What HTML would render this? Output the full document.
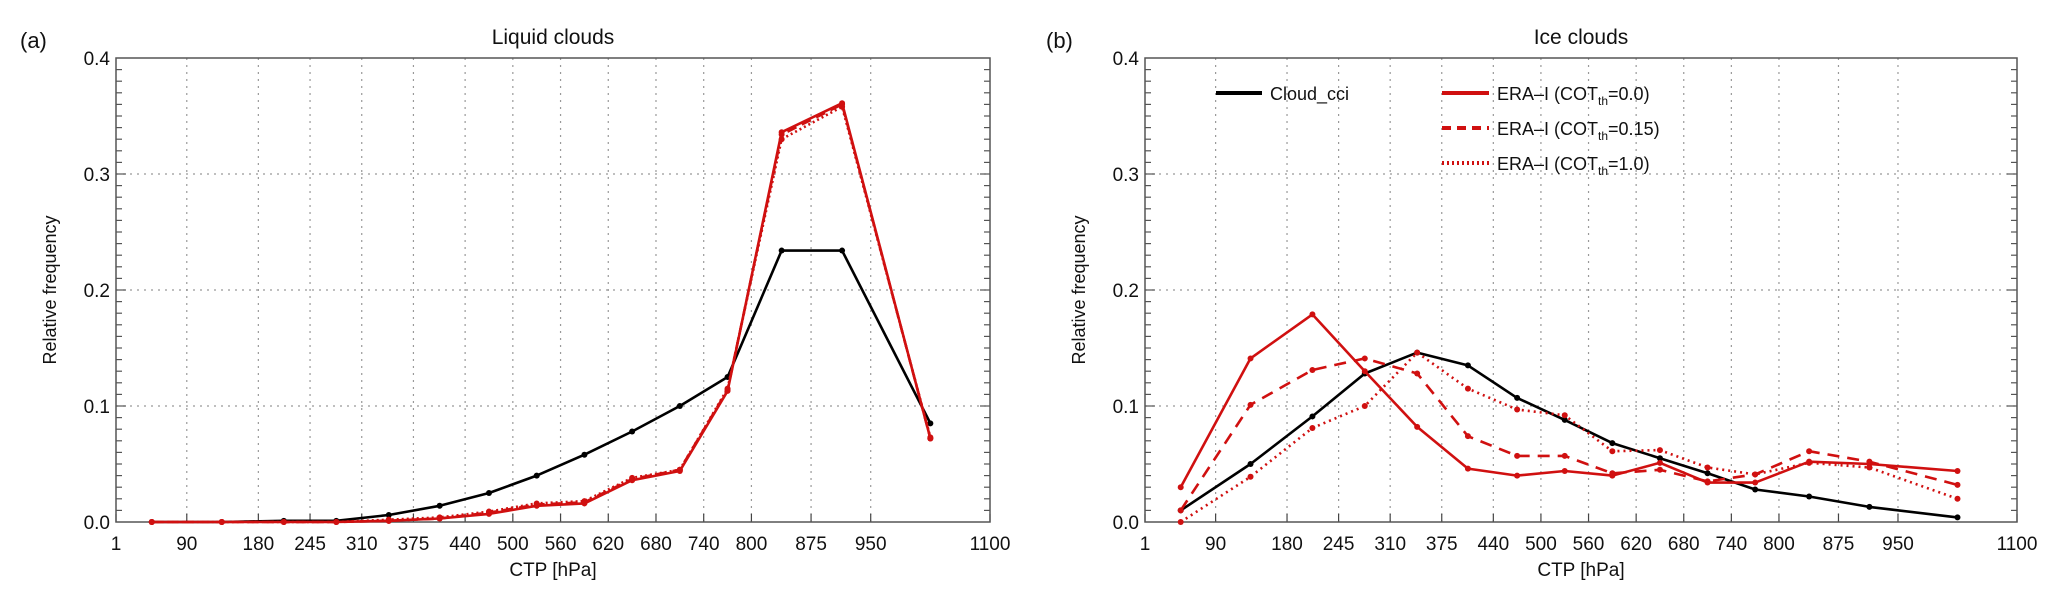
<!DOCTYPE html>
<html><head><meta charset="utf-8"><style>
html,body{margin:0;padding:0;background:#fff;}
svg{display:block;font-family:"Liberation Sans",Arial,sans-serif;}
</style></head><body>
<svg id="chart" width="2067" height="606" xmlns="http://www.w3.org/2000/svg"></svg>
<script>
const pressureBins = [46,134,212,278,344,408,470,530,590,650,710,770,838,914,1025];
const xTicks = [1,90,180,245,310,375,440,500,560,620,680,740,800,875,950,1100];
const yTicks = [0.0,0.1,0.2,0.3,0.4];
const liqCci   = [0,0,0,0.001,0.001,0.006,0.014,0.025,0.040,0.058,0.078,0.100,0.125,0.234,0.234,0.085].slice(1);
const liqEra00 = [0,0,0,0,0.001,0.003,0.007,0.014,0.016,0.036,0.044,0.113,0.336,0.361,0.072];
const liqEra15 = [0,0,0,0,0.001,0.003,0.008,0.015,0.017,0.037,0.045,0.114,0.334,0.360,0.072];
const liqEra10 = [0,0,0,0,0.002,0.004,0.009,0.016,0.018,0.038,0.045,0.115,0.330,0.358,0.073];
const iceCci   = [0.010,0.050,0.091,0.128,0.146,0.135,0.107,0.088,0.068,0.055,0.042,0.028,0.022,0.013,0.004];
const iceEra00 = [0.030,0.141,0.179,0.130,0.082,0.046,0.040,0.044,0.040,0.051,0.034,0.034,0.052,0.050,0.044];
const iceEra15 = [0.010,0.101,0.131,0.141,0.128,0.074,0.057,0.057,0.042,0.045,0.035,0.041,0.061,0.052,0.032];
const iceEra10 = [0.000,0.039,0.081,0.100,0.146,0.115,0.097,0.092,0.061,0.062,0.047,0.041,0.051,0.047,0.020];
</script>
<script>
const NS="http://www.w3.org/2000/svg";
const svg=document.getElementById('chart');
function mk(tag,attrs,parent,text){const e=document.createElementNS(NS,tag);for(const k in attrs)e.setAttribute(k,attrs[k]);if(text!==undefined)e.textContent=text;(parent||svg).appendChild(e);return e;}
const RED="#d01010";
function panel(o){
  const g=mk('g',{});
  
  
  const L=o.left,R=o.right,T=58,B=522;
  const xs=v=>L+(v-1)/1099*(R-L);
  const ys=v=>B-v/0.4*(B-T);
  xTicks.forEach((t,i)=>{
    if(i>0&&i<xTicks.length-1){const l=mk('line',{x1:xs(t),x2:xs(t),y1:T,y2:B,stroke:'#999','stroke-width':1.2,'stroke-dasharray':'2,5'},g);
      }
    const tl=mk('line',{x1:xs(t),x2:xs(t),y1:B,y2:B-8,stroke:'#444','stroke-width':1.2},g);
    
    const tx=mk('text',{x:xs(t),y:550,'text-anchor':'middle','font-size':19,fill:'#111'},g,String(t));
    
  });
  for(let k=1;k<40;k++){const v=k*0.01;const y=ys(v);const major=k%10===0;
    if(major){const gl=mk('line',{x1:L,x2:R,y1:y,y2:y,stroke:'#999','stroke-width':1.2,'stroke-dasharray':'2,5'},g);
      }
    const w=major?10:6;
    mk('line',{x1:L,x2:L+w,y1:y,y2:y,stroke:'#555','stroke-width':1.2},g);
    mk('line',{x1:R,x2:R-w,y1:y,y2:y,stroke:'#555','stroke-width':1.2},g);
  }
  yTicks.forEach(t=>{const tx=mk('text',{x:L-6,y:ys(t)+7,'text-anchor':'end','font-size':19,fill:'#111'},g,t.toFixed(1));
    });
  const box=mk('rect',{x:L,y:T,width:R-L,height:B-T,fill:'none',stroke:'#555','stroke-width':1.5},g);
  
  const ti=mk('text',{x:(L+R)/2,y:44,'text-anchor':'middle','font-size':21,fill:'#111'},g,o.title);
  
  const lb=mk('text',{x:o.labelX,y:48,'font-size':22,fill:'#111'},g,o.label);
  
  const yl=mk('text',{x:0,y:0,'text-anchor':'middle','font-size':18,fill:'#111',transform:`translate(${L-60},290) rotate(-90)`},g,'Relative frequency');
  
  const xl=mk('text',{x:(L+R)/2,y:576,'text-anchor':'middle','font-size':19,fill:'#111'},g,'CTP [hPa]');
  
  o.series.forEach(s=>{
    const pts=pressureBins.map((p,i)=>xs(p).toFixed(1)+','+ys(s.vals[i]).toFixed(1)).join(' ');
    const pl=mk('polyline',{points:pts,fill:'none',stroke:s.color,'stroke-width':2.6,'stroke-dasharray':s.dash||'none','stroke-linejoin':'round'},g);
    
    pressureBins.forEach((p,i)=>{const c=mk('circle',{cx:xs(p),cy:ys(s.vals[i]),r:3,fill:s.color},g);
      });
  });
}
panel({name:'liquid-clouds-panel',left:116,right:990,title:'Liquid clouds',label:'(a)',labelX:20,series:[
  {name:'cloud-cci-line',vals:liqCci,color:'#000'},
  {name:'era-cot-1.0-line',vals:liqEra10,color:RED,dash:'2,3'},
  {name:'era-cot-0.15-line',vals:liqEra15,color:RED,dash:'10,6'},
  {name:'era-cot-0.0-line',vals:liqEra00,color:RED}]});
panel({name:'ice-clouds-panel',left:1145,right:2017,title:'Ice clouds',label:'(b)',labelX:1046,series:[
  {name:'cloud-cci-line',vals:iceCci,color:'#000'},
  {name:'era-cot-0.0-line',vals:iceEra00,color:RED},
  {name:'era-cot-0.15-line',vals:iceEra15,color:RED,dash:'12,8'},
  {name:'era-cot-1.0-line',vals:iceEra10,color:RED,dash:'2,4'}]});
</script>
<svg style="position:absolute;left:0;top:0" width="2067" height="606">
  <g font-family="Liberation Sans, Arial, sans-serif" font-size="18" fill="#111">
    <line x1="1216" x2="1262" y1="93" y2="93" stroke="#000" stroke-width="4"/>
    <text x="1270" y="100">Cloud_cci</text>
    <line x1="1442" x2="1489" y1="93" y2="93" stroke="#d01010" stroke-width="4"/>
    <text x="1497" y="100">ERA–I (COT<tspan font-size="12" dy="5">th</tspan><tspan dy="-5">=0.0)</tspan></text>
    <line x1="1442" x2="1489" y1="128" y2="128" stroke="#d01010" stroke-width="4" stroke-dasharray="9,6"/>
    <text x="1497" y="135">ERA–I (COT<tspan font-size="12" dy="5">th</tspan><tspan dy="-5">=0.15)</tspan></text>
    <line x1="1442" x2="1489" y1="163" y2="163" stroke="#d01010" stroke-width="4" stroke-dasharray="2,3"/>
    <text x="1497" y="170">ERA–I (COT<tspan font-size="12" dy="5">th</tspan><tspan dy="-5">=1.0)</tspan></text>
  </g>
</svg>
</body></html>
